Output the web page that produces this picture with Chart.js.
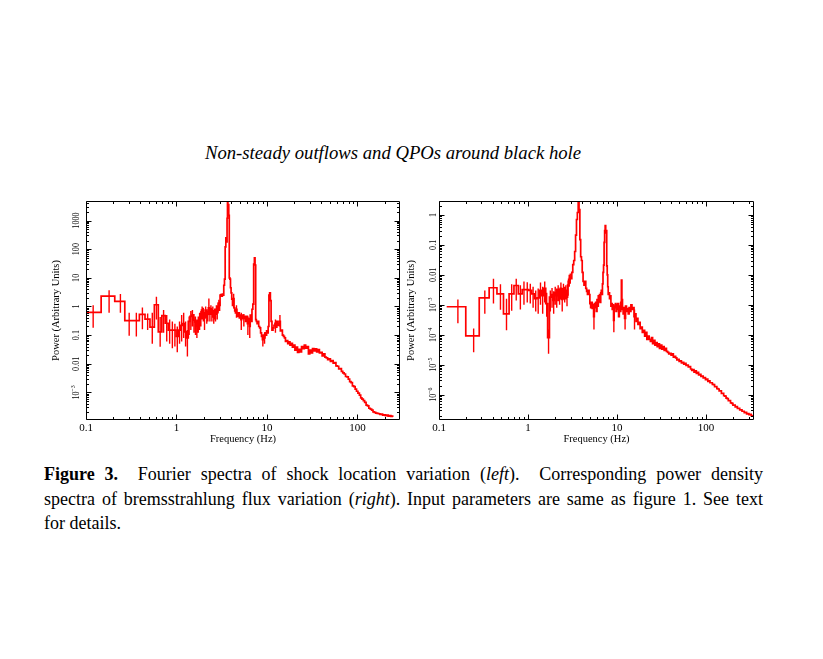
<!DOCTYPE html>
<html><head><meta charset="utf-8">
<script src="https://cdn.jsdelivr.net/npm/chart.js@4.4.0/dist/chart.umd.min.js"></script>
<style>
html,body{margin:0;padding:0;background:#fff;}
body{width:823px;height:659px;position:relative;overflow:hidden;font-family:'Liberation Serif','Times New Roman',serif;color:#000;}
#title{position:absolute;left:0;width:786px;top:142.7px;line-height:20px;text-align:center;font-family:'Liberation Serif',serif;font-style:italic;font-size:18.7px;white-space:nowrap;}
canvas{position:absolute;}
.cl{position:absolute;left:44px;width:719px;font-size:18px;line-height:24.5px;}
.jl{text-align:justify;text-align-last:justify;}
</style></head>
<body>
<div id="title">Non-steady outflows and QPOs around black hole</div>
<canvas id="leftChart" width="365" height="255" style="left:40px;top:195px"></canvas>
<canvas id="rightChart" width="365" height="255" style="left:395px;top:195px"></canvas>
<div class="cl jl" style="top:462px"><b>Figure 3.</b>&nbsp; Fourier spectra of shock location variation (<i>left</i>).&nbsp; Corresponding power density</div>
<div class="cl jl" style="top:486.5px">spectra of bremsstrahlung flux variation (<i>right</i>). Input parameters are same as figure 1. See text</div>
<div class="cl" style="top:511px">for details.</div>
<script>
// ---------- data ----------
const xTickValues = [0.1, 1, 10, 100];
const xTickLabels = ['0.1', '1', '10', '100'];
const leftYTickValues = [1e-3, 0.01, 0.1, 1, 10, 100, 1000];
const leftYTickLabels = ['10^\u22123', '0.01', '0.1', '1', '10', '100', '1000'];
const rightYTickValues = [1e-6, 1e-5, 1e-4, 1e-3, 0.01, 0.1, 1];
const rightYTickLabels = ['10^\u22126', '10^\u22125', '10^\u22124', '10^\u22123', '0.01', '0.1', '1'];

const leftFreq = [
 0.12,0.18,0.24,0.30,0.36,0.42,0.48,0.54,0.60,0.66,
 0.72,0.78,0.84,0.90,0.96,1.02,1.08,1.14,1.20,1.26,
 1.32,1.38,1.44,1.50,1.56,1.62,1.68,1.74,1.80,1.86,
 1.92,1.98,2.04,2.10,2.16,2.22,2.28,2.34,2.40,2.46,
 2.52,2.58,2.64,2.70,2.76,2.82,2.88,2.94,3.00,3.06,
 3.12,3.18,3.24,3.30,3.36,3.42,3.48,3.54,3.60,3.64,
 3.68,3.72,3.76,3.80,3.86,3.92,3.98,4.04,4.12,4.20,
 4.28,4.36,4.44,4.52,4.60,4.70,4.80,4.90,5.00,5.10,
 5.20,5.30,5.40,5.55,5.70,5.85,6.00,6.15,6.30,6.45,
 6.60,6.75,6.90,7.05,7.20,7.32,7.44,7.56,7.70,7.85,
 8.00,8.20,8.40,8.60,8.80,9.00,9.20,9.40,9.60,9.80,
 10.0,10.2,10.4,10.6,10.8,11.0,11.2,11.5,11.8,12.1,
 12.4,12.7,13.0,13.3,13.6,13.9,14.2,14.6,15.0,15.4,
 15.8,16.2,16.7,17.2,17.7,18.2,18.8,19.4,20.0,20.7,
 21.4,22.1,22.9,23.7,24.5,25.4,26.3,27.2,28.2,29.2,
 30.2,31.3,32.4,33.6,34.8,36.0,37.3,38.6,40.0,41.4,
 42.9,44.4,46.0,47.6,49.3,51.1,52.9,54.8,56.8,58.8,
 60.9,63.1,65.3,67.6,70.0,72.5,75.1,77.8,80.5,83.4,
 86.4,89.4,92.6,95.9,99.3,103,107,110,114,118,
 122,127,131,136,141,146,151,156,162,168,
 174,180,186,193,200,207,214,222,230,238,
 246];
const leftPower = [
 0.62,2.3,1.5,0.32,0.32,0.53,0.36,0.19,1.15,0.13,
 0.48,0.26,0.15,0.15,0.15,0.09,0.15,0.22,0.25,0.13,
 0.08,0.3,0.45,0.5,0.33,0.29,0.2,0.3,0.4,0.5,
 0.74,0.6,0.4,0.75,0.5,0.6,0.9,0.55,0.85,0.55,
 0.7,0.45,0.6,0.55,0.8,0.6,1.0,1.2,1.1,2.5,
 2.6,2.3,2.7,2.5,5.5,9,120,250,180,1200,
 4500,2500,3600,1500,10,9,4.5,3,1.8,1.1,
 1.9,0.9,0.7,0.6,0.8,0.55,0.45,0.6,0.4,0.5,
 0.35,0.45,0.5,0.38,0.45,0.3,0.45,0.25,0.38,0.2,
 0.5,0.3,0.8,1.2,30,50,28,0.35,0.3,0.25,
 0.3,0.2,0.18,0.12,0.09,0.07,0.1,0.08,0.12,0.1,
 0.14,0.12,0.2,2.5,3.0,1.6,0.3,0.15,0.18,0.22,
 0.26,0.19,0.3,0.22,0.24,0.3,0.14,0.15,0.1,0.09,
 0.08,0.06,0.065,0.05,0.058,0.045,0.052,0.038,0.045,0.03,
 0.038,0.025,0.032,0.026,0.04,0.034,0.045,0.035,0.04,0.022,
 0.03,0.024,0.034,0.028,0.033,0.026,0.031,0.024,0.025,0.019,
 0.022,0.017,0.016,0.014,0.015,0.012,0.013,0.0105,0.011,0.0085,
 0.0082,0.0066,0.0068,0.0054,0.0048,0.0044,0.0036,0.0035,0.0029,0.0024,
 0.0022,0.0017,0.0016,0.0013,0.0011,0.00095,0.0008,0.00065,0.00058,0.00052,
 0.00045,0.00036,0.00034,0.00028,0.00026,0.00024,0.00021,0.0002,0.00019,0.000185,
 0.00018,0.00017,0.000175,0.00016,0.000165,0.000155,0.00016,0.00015,0.000155,0.000145,
 0.00015];
const leftErrFreq = [
 0.12,0.18,0.24,0.30,0.36,0.42,0.48,0.54,0.60,0.66,
 0.72,0.78,0.84,0.90,0.96,1.02,1.08,1.14,1.20,1.26,
 1.32,1.38,1.44,1.50,1.56,1.62,1.68,1.74,1.80,1.86,
 1.92,1.98,2.04,2.10,2.16,2.22,2.28,2.34,2.40,2.46,
 2.52,2.58,2.64,2.70,2.76,2.82,2.88,2.94,3.00,4.28,
 4.60,5.20,5.55,6.15,6.45,9.00,9.40,12.4,13.9];
const leftErrLow = [
 0.18,0.6,0.6,0.095,0.09,0.16,0.15,0.05,0.35,0.039,
 0.12,0.06,0.05,0.035,0.04,0.025,0.05,0.06,0.08,0.04,
 0.018,0.1,0.15,0.2,0.12,0.1,0.08,0.12,0.15,0.2,
 0.35,0.3,0.15,0.4,0.25,0.3,0.5,0.3,0.5,0.3,
 0.4,0.25,0.35,0.3,0.5,0.35,0.6,0.7,0.7,0.9,
 0.4,0.15,0.2,0.1,0.08,0.04,0.05,0.12,0.2];
const leftErrHigh = [
 1.1,3.7,2.7,0.6,0.6,0.92,0.57,0.6,2.2,0.43,
 0.75,0.5,0.35,0.3,0.25,0.2,0.3,0.5,0.6,0.3,
 0.15,0.45,0.7,0.75,0.55,0.45,0.35,0.45,0.6,0.7,
 1.0,0.9,0.55,1.0,0.7,0.8,1.9,0.8,1.1,0.8,
 1.0,0.7,0.85,0.8,1.1,0.85,1.4,1.7,1.5,2.8,
 1.1,0.6,0.55,0.45,0.35,0.1,0.12,0.35,0.5];

const rightFreq = [
 0.163,0.245,0.327,0.409,0.49,0.573,0.655,0.737,0.82,0.90,
 0.98,1.06,1.14,1.22,1.30,1.38,1.46,1.54,1.62,1.70,
 1.78,1.86,1.94,2.02,2.10,2.18,2.26,2.34,2.42,2.50,
 2.58,2.66,2.74,2.82,2.90,2.98,3.06,3.14,3.22,3.30,
 3.38,3.46,3.54,3.62,3.70,3.78,3.86,3.94,4.02,4.10,
 4.20,4.30,4.40,4.50,4.60,4.70,4.80,4.90,5.00,5.10,
 5.20,5.30,5.40,5.50,5.60,5.70,5.80,5.90,6.00,6.10,
 6.20,6.30,6.40,6.50,6.60,6.70,6.80,6.90,7.00,7.10,
 7.20,7.30,7.40,7.50,7.60,7.70,7.80,7.90,8.00,8.15,
 8.30,8.45,8.60,8.75,8.90,9.05,9.20,9.35,9.50,9.65,
 9.80,9.95,10.1,10.3,10.5,10.7,10.9,11.1,11.25,11.4,
 11.6,11.8,12.0,12.3,12.6,12.9,13.2,13.5,13.8,14.1,
 14.5,14.9,15.3,15.7,16.1,16.5,16.9,17.4,17.9,18.4,
 18.9,19.5,20.1,20.7,21.3,21.9,22.6,23.3,24.0,24.7,
 25.4,26.2,27.0,27.8,28.6,29.5,30.4,31.3,32.3,33.3,
 34.3,35.3,36.4,37.5,38.6,39.8,41.0,42.2,43.5,44.8,
 46.2,47.6,49.0,50.5,52.0,53.6,55.2,56.9,58.6,60.3,
 62.1,64.0,65.9,67.9,70.0,72.1,74.2,76.5,78.8,81.1,
 83.6,86.1,88.7,91.3,94.1,96.9,99.8,103,106,109,
 112,116,119,123,126,130,134,138,142,146,
 151,155,160,165,170,175,180,185,191,197,
 203,209,215,221,228,235,242,249,257,264,
 272,281,289,298,307,316,325,335];
const rightPower = [
 8.6e-4,9.2e-5,1.7e-3,3.7e-3,2.3e-3,5e-4,2.3e-3,4.4e-3,2.3e-3,3.2e-3,
 3.2e-3,3.0e-3,2.3e-3,1.6e-3,1.7e-3,3e-3,2e-3,3.5e-3,1.1e-3,8e-5,
 1.8e-3,2.2e-3,1.4e-3,2.5e-3,2e-3,3e-3,2.2e-3,3.5e-3,1.5e-3,3.4e-3,
 2.5e-3,3e-3,1.8e-3,4.5e-3,7e-3,8e-3,7.5e-3,0.012,0.022,0.03,
 0.06,0.21,0.7,1.2,2.6,1.5,0.15,0.04,0.03,0.012,
 6e-3,4.5e-3,6e-3,3.5e-3,2.8e-3,2.2e-3,3e-3,2.2e-3,1.1e-3,8e-4,
 1.2e-3,7.5e-4,1e-3,4e-4,1.1e-3,8e-4,1.2e-3,6e-4,1.5e-3,9e-4,
 2e-3,1.3e-3,2.2e-3,1.2e-3,2.5e-3,3e-3,2.2e-3,5e-3,0.012,0.021,
 0.12,0.3,0.44,0.25,0.3,0.02,0.01,4e-3,2.2e-3,2.5e-3,
 1.6e-3,2e-3,9e-4,1.1e-3,7e-4,1e-3,3e-4,9e-4,8e-4,1.1e-3,
 6e-4,1e-3,7e-4,1.1e-3,4e-4,9e-4,6e-4,1.2e-3,6.6e-3,1.5e-3,
 7e-4,5e-4,8e-4,3.5e-4,9e-4,6e-4,7.5e-4,5e-4,8e-4,6e-4,
 1e-3,7e-4,8e-4,4e-4,5e-4,2.8e-4,3.5e-4,2.2e-4,2.6e-4,1.6e-4,
 1.8e-4,1.2e-4,1.4e-4,9e-5,1.2e-4,7e-5,9e-5,7e-5,6e-5,8e-5,
 5e-5,6.5e-5,4.5e-5,5.5e-5,4e-5,5e-5,3.5e-5,4.5e-5,3.3e-5,4e-5,
 3e-5,3.5e-5,2.8e-5,2.6e-5,2.3e-5,2.4e-5,2.1e-5,2.3e-5,1.8e-5,1.9e-5,
 1.7e-5,1.45e-5,1.5e-5,1.3e-5,1.35e-5,1.15e-5,1.2e-5,1.05e-5,1.1e-5,9.5e-6,
 9.8e-6,8.5e-6,8.6e-6,7.2e-6,6.4e-6,6.9e-6,5.6e-6,6.2e-6,5.1e-6,5.6e-6,
 4.6e-6,4.8e-6,4.1e-6,4.2e-6,3.6e-6,3.7e-6,3.2e-6,3.3e-6,2.8e-6,2.9e-6,
 2.5e-6,2.5e-6,2.2e-6,2.15e-6,1.85e-6,1.85e-6,1.6e-6,1.55e-6,1.35e-6,1.35e-6,
 1.1e-6,1.1e-6,9.2e-7,9e-7,7.7e-7,7.4e-7,6.3e-7,6.3e-7,5.3e-7,5.1e-7,
 4.5e-7,4.5e-7,3.9e-7,4e-7,3.5e-7,3.5e-7,3.1e-7,3.1e-7,2.8e-7,2.8e-7,
 2.5e-7,2.55e-7,2.3e-7,2.35e-7,2.15e-7,2.2e-7,2e-7,2e-7];
const rightErrFreq = [
 0.163,0.245,0.327,0.409,0.49,0.573,0.655,0.737,0.82,0.90,
 0.98,1.06,1.14,1.22,1.30,1.38,1.46,1.54,1.62,1.70,
 1.78,1.86,1.94,2.02,2.10,2.18,2.26,2.34,2.42,2.50,
 2.58,2.66,2.74,2.82,2.90,2.98,5.50,9.20,12.3,15.7];
const rightErrLow = [
 2.4e-4,2.6e-5,5e-4,1.1e-3,6.8e-4,1.4e-4,6.3e-4,1.4e-3,7e-4,1e-3,
 1.2e-3,1.1e-3,8e-4,6e-4,5e-4,1e-3,5e-4,1.2e-3,4e-4,2.3e-5,
 6e-4,8e-4,5e-4,1e-3,8e-4,1.3e-3,1e-3,1.5e-3,6e-4,1.5e-3,
 1.2e-3,1.5e-3,9e-4,2e-3,4e-3,5e-3,1.5e-4,1.2e-4,1.5e-4,1.5e-4];
const rightErrHigh = [
 1.5e-3,1.6e-4,3e-3,7.4e-3,4.8e-3,1.6e-3,4.8e-3,7.4e-3,4.5e-3,6e-3,
 5.6e-3,5e-3,4e-3,3e-3,3.5e-3,5.5e-3,4e-3,6e-3,2.5e-3,1.5e-4,
 3e-3,3.6e-3,2.8e-3,4e-3,3.5e-3,4.5e-3,3.5e-3,5.5e-3,2.5e-3,5e-3,
 4e-3,4.5e-3,3e-3,6.5e-3,1e-2,1.1e-2,9e-4,7e-4,7e-4,7e-4];

// ---------- helpers ----------
const RED = '#ff0000';
const SERIF = '"Liberation Serif", "Times New Roman", serif';

function makeSeries(freq, power) {
  const pts = freq.map((f, i) => ({x: f, y: power[i]}));
  const n = freq.length;
  pts.unshift({x: freq[0] - (freq[1] - freq[0]) / 2, y: power[0]});
  pts.push({x: freq[n - 1] + (freq[n - 1] - freq[n - 2]) / 2, y: power[n - 1]});
  return pts;
}
function makeErrors(ef, lo, hi) {
  const pts = [];
  ef.forEach((f, i) => { pts.push({x: f, y: lo[i]}, {x: f, y: hi[i]}, {x: f, y: null}); });
  return pts;
}

const framePlugin = {
  id: 'frame',
  afterDraw(chart, args, o) {
    const {ctx, chartArea: a} = chart;
    const xs = chart.scales.x, ys = chart.scales.y;
    ctx.save();
    ctx.strokeStyle = '#000';
    ctx.lineWidth = 1;
    ctx.beginPath();
    const L = Math.round(a.left) + 0.5, R = Math.round(a.right) - 0.5;
    const T = Math.round(a.top) + 0.5, B = Math.round(a.bottom) - 0.5;
    ctx.rect(L, T, R - L, B - T);
    const minorTicks = (scale) => {
      const out = [];
      const d0 = Math.floor(Math.log10(scale.min)), d1 = Math.ceil(Math.log10(scale.max));
      for (let d = d0; d <= d1; d++) {
        for (let m = 1; m <= 9; m++) {
          const v = m * Math.pow(10, d);
          if (v >= scale.min * 0.999 && v <= scale.max * 1.001) out.push({v, major: m === 1});
        }
      }
      return out;
    };
    minorTicks(xs).forEach(t => {
      const p = Math.round(xs.getPixelForValue(t.v)) + 0.5;
      const len = t.major ? 5 : 2.5;
      ctx.moveTo(p, B); ctx.lineTo(p, B - len);
      ctx.moveTo(p, T); ctx.lineTo(p, T + len);
    });
    minorTicks(ys).forEach(t => {
      const p = Math.round(ys.getPixelForValue(t.v)) + 0.5;
      const len = t.major ? 5 : 2.5;
      ctx.moveTo(L, p); ctx.lineTo(L + len, p);
      ctx.moveTo(R, p); ctx.lineTo(R - len, p);
    });
    ctx.stroke();
    // rotated y tick labels
    ctx.fillStyle = '#000';
    o.yTickValues.forEach((v, i) => {
      const py = ys.getPixelForValue(v);
      const parts = o.yTickLabels[i].split('^');
      ctx.save();
      ctx.translate(a.left - o.labelOffset, py);
      ctx.rotate(-Math.PI / 2);
      ctx.scale(0.82, 1);
      ctx.textBaseline = 'middle';
      ctx.textAlign = 'left';
      ctx.font = '10px ' + SERIF;
      const bw = ctx.measureText(parts[0]).width;
      let ew = 0;
      if (parts[1]) { ctx.font = '7px ' + SERIF; ew = ctx.measureText(parts[1]).width; }
      const s = -(bw + ew) / 2;
      ctx.font = '10px ' + SERIF;
      ctx.fillText(parts[0], s, 0);
      if (parts[1]) { ctx.font = '7px ' + SERIF; ctx.fillText(parts[1], s + bw, -3); }
      ctx.restore();
    });
    ctx.restore();
  }
};

function build(id, p) {
  return new Chart(document.getElementById(id), {
    type: 'line',
    data: {
      datasets: [
        {data: makeSeries(p.freq, p.power), borderColor: RED, borderWidth: 1.7, stepped: 'middle',
         pointRadius: 0, fill: false},
        {data: makeErrors(p.errF, p.errLo, p.errHi), borderColor: RED, borderWidth: 1.4,
         pointRadius: 0, fill: false, spanGaps: false}
      ]
    },
    options: {
      responsive: false, animation: false, events: [],
      layout: {padding: {left: 0, top: 6, right: p.padRight, bottom: 0}},
      plugins: {
        legend: {display: false}, tooltip: {enabled: false},
        frame: {yTickValues: p.yTickValues, yTickLabels: p.yTickLabels, labelOffset: p.labelOffset}
      },
      scales: {
        x: {
          type: 'logarithmic', min: 0.1, max: p.xMax,
          grid: {display: false, drawTicks: false}, border: {display: false},
          afterBuildTicks: s => { s.ticks = xTickValues.map(v => ({value: v})); },
          afterFit: s => { s.height = 30; },
          ticks: {color: '#000', font: {family: SERIF, size: 11}, padding: 2, maxRotation: 0, autoSkip: false,
                  callback: v => { const i = xTickValues.indexOf(v); return i >= 0 ? xTickLabels[i] : ''; }},
          title: {display: true, text: 'Frequency (Hz)', color: '#000', font: {family: SERIF, size: 10.5},
                  padding: {top: 0, bottom: 4.7}}
        },
        y: {
          type: 'logarithmic', min: p.yMin, max: p.yMax,
          grid: {display: false, drawTicks: false}, border: {display: false},
          ticks: {display: false},
          afterFit: s => { s.width = p.yWidth; },
          title: {display: true, text: 'Power (Arbitrary Units)', color: '#000', font: {family: SERIF, size: 10.5},
                  padding: {top: 10.4, bottom: 0}}
        }
      }
    },
    plugins: [framePlugin]
  });
}

build('leftChart', {
  freq: leftFreq, power: leftPower, errF: leftErrFreq, errLo: leftErrLow, errHi: leftErrHigh,
  xMax: 295, yMin: 1.09e-4, yMax: 4800, padRight: 5, yWidth: 46, labelOffset: 9.5,
  yTickValues: leftYTickValues, yTickLabels: leftYTickLabels
});
build('rightChart', {
  freq: rightFreq, power: rightPower, errF: rightErrFreq, errLo: rightErrLow, errHi: rightErrHigh,
  xMax: 345, yMin: 1.43e-7, yMax: 2.9, padRight: 6, yWidth: 44, labelOffset: 5.5,
  yTickValues: rightYTickValues, yTickLabels: rightYTickLabels
});
</script>
</body></html>
